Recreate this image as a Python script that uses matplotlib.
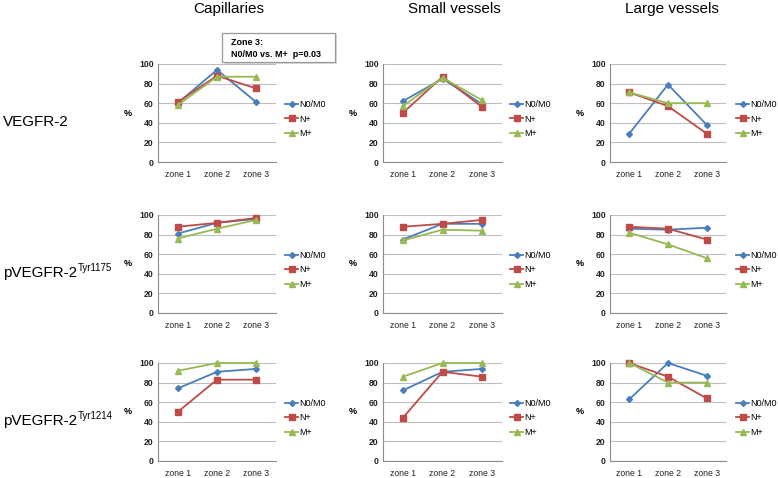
import matplotlib
matplotlib.use("Agg")
import matplotlib.pyplot as plt
from matplotlib.patches import Rectangle

# ---------------------------------- data ----------------------------------
zones = ["zone 1", "zone 2", "zone 3"]
groups = ["N0/M0", "N+", "M+"]
vessel_types = ["Capillaries", "Small vessels", "Large vessels"]
row_labels = ["VEGFR-2", "pVEGFR-2", "pVEGFR-2"]
row_supers = ["", "Tyr1175", "Tyr1214"]
y_ticks = [0, 20, 40, 60, 80, 100]

# one list per group (N0/M0, N+, M+), values in % per zone
vegfr2_capillaries = [[60, 94, 61], [61, 88, 75], [58, 87, 87]]
vegfr2_small = [[62, 85, 59], [50, 87, 56], [57, 86, 63]]
vegfr2_large = [[29, 79, 38], [71, 57, 29], [71, 60, 60]]

tyr1175_capillaries = [[81, 92, 96], [88, 92, 97], [76, 86, 95]]
tyr1175_small = [[75, 91, 91], [88, 91, 95], [74, 85, 84]]
tyr1175_large = [[86, 85, 87], [88, 86, 75], [82, 70, 56]]

tyr1214_capillaries = [[74, 91, 94], [50, 83, 83], [92, 100, 100]]
tyr1214_small = [[72, 91, 94], [44, 91, 86], [86, 100, 100]]
tyr1214_large = [[63, 100, 87], [100, 86, 64], [100, 80, 80]]

panels = [[vegfr2_capillaries, vegfr2_small, vegfr2_large],
          [tyr1175_capillaries, tyr1175_small, tyr1175_large],
          [tyr1214_capillaries, tyr1214_small, tyr1214_large]]

note_text = "Zone 3:\nN0/M0 vs. M+  p=0.03"

# ---------------------------------- style ----------------------------------
colors = ["#4A7EBB", "#BE4B48", "#98B954"]
markers = ["D", "s", "^"]
msizes = [3.0, 3.8, 3.8]
grid_color = "#BFBFBF"
axis_color = "#8C8C8C"
font = "Liberation Sans"

W, H = 778, 478
fig = plt.figure(figsize=(W / 100, H / 100), dpi=100)
fig.patch.set_facecolor("white")


def px_box(left, top, right, bottom):
    return [left / W, 1 - bottom / H, (right - left) / W, (bottom - top) / H]


cols_x = [(158, 276), (383, 502), (610, 726)]
rows_y = [(64, 162), (215, 313), (363, 461)]
title_x = [229, 454, 672]
legend_x = [285, 510, 736]

renderer = fig.canvas.get_renderer()

for r, (top, bottom) in enumerate(rows_y):
    mid = (top + bottom) / 2
    for c, (left, right) in enumerate(cols_x):
        ax = fig.add_axes(px_box(left, top, right, bottom))
        data = panels[r][c]
        xs = list(range(len(zones)))
        for g, vals in enumerate(data):
            ax.plot(xs, vals, color=colors[g], marker=markers[g], ms=msizes[g],
                    lw=1.3, label=groups[g], zorder=3, clip_on=False)
        ax.set_xlim(-0.5, len(zones) - 0.5)
        ax.set_ylim(0, 100)
        ax.set_yticks(y_ticks)
        ax.set_xticks(xs)
        ax.set_xticklabels(zones, fontsize=6.2, family=font)
        ax.set_yticklabels([str(v) for v in y_ticks], fontsize=6.2,
                           fontweight="bold", family=font)
        ax.tick_params(axis="both", length=0, colors="#222222")
        ax.tick_params(axis="y", pad=3)
        ax.tick_params(axis="x", pad=6)
        ax.grid(axis="y", color=grid_color, lw=0.8)
        ax.set_axisbelow(True)
        for s in ["top", "right"]:
            ax.spines[s].set_visible(False)
        for s in ["left", "bottom"]:
            ax.spines[s].set_color(axis_color)
            ax.spines[s].set_linewidth(0.8)

        fig.text((left - 30) / W, 1 - mid / H, "%", fontsize=6.5, fontweight="bold",
                 family=font, ha="center", va="center")
        ax.legend(loc="center left", bbox_to_anchor=(legend_x[c] / W, 1 - (mid + 6) / H),
                  bbox_transform=fig.transFigure, frameon=False, borderpad=0,
                  borderaxespad=0, handlelength=1.45, handletextpad=0.15,
                  labelspacing=0.6, prop={"family": font, "size": 6.5})

    label_y = 1 - (mid + 9) / H
    t = fig.text(3 / W, label_y, row_labels[r], fontsize=11, family=font,
                 ha="left", va="center")
    if row_supers[r]:
        ext = t.get_window_extent(renderer=renderer)
        fig.text((ext.x1 + 0.5) / W, label_y + 5 / H, row_supers[r], fontsize=7,
                 family=font, ha="left", va="center")

for c, name in enumerate(vessel_types):
    fig.text(title_x[c] / W, 1 - 9 / H, name, fontsize=11, family=font,
             ha="center", va="center")

# annotation box above the capillaries panel
shadow = Rectangle((224 / W, 1 - 64 / H), 113 / W, 30 / H, transform=fig.transFigure,
                   facecolor="#DADADA", edgecolor="none", zorder=5)
box = Rectangle((222 / W, 1 - 62 / H), 113 / W, 29 / H, transform=fig.transFigure,
                facecolor="white", edgecolor="#9A9A9A", lw=0.9, zorder=6)
fig.patches.extend([shadow, box])
fig.text(231 / W, 1 - 48.5 / H, note_text, fontsize=6.5, fontweight="bold",
         family=font, ha="left", va="center", linespacing=1.3, zorder=7)

fig.savefig("out.png", dpi=100)
